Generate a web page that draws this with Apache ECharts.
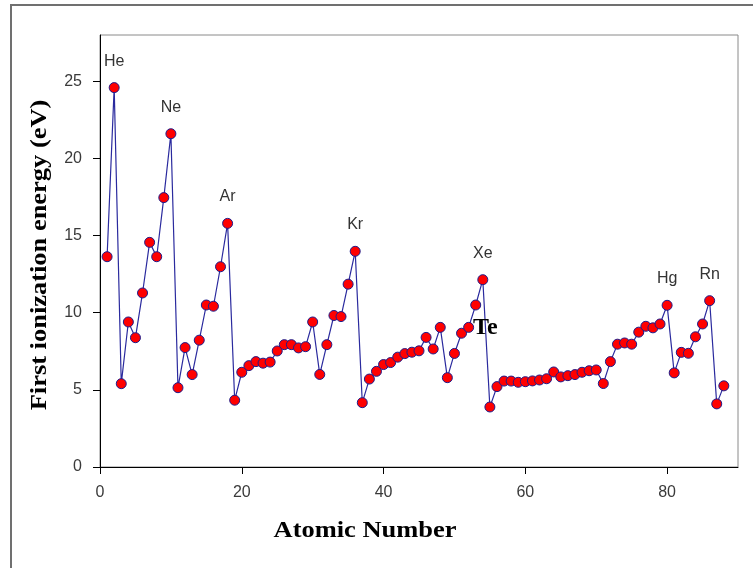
<!DOCTYPE html>
<html>
<head>
<meta charset="utf-8">
<script src="https://cdn.jsdelivr.net/npm/echarts@6/dist/echarts.min.js"></script>
<style>
html,body{margin:0;padding:0;background:#fff;}
#chart{width:753px;height:568px;}
</style>
</head>
<body>
<div id="chart"></div>
<script>
var atomicNumbers = [1,2,3,4,5,6,7,8,9,10,11,12,13,14,15,16,17,18,19,20,21,22,23,24,25,26,27,28,29,30,31,32,33,34,35,36,37,38,39,40,41,42,43,44,45,46,47,48,49,50,51,52,53,54,55,56,57,58,59,60,61,62,63,64,65,66,67,68,69,70,71,72,73,74,75,76,77,78,79,80,81,82,83,84,85,86,87,88];
var ionizationEnergy = [13.63,24.59,5.40,9.40,8.38,11.28,14.56,13.63,17.46,21.60,
  5.14,7.74,5.99,8.22,10.50,10.42,12.98,15.79,4.33,6.14,
  6.57,6.83,6.73,6.80,7.52,7.93,7.93,7.72,7.80,9.40,
  6.00,7.93,9.82,9.75,11.85,13.98,4.17,5.70,6.20,6.64,
  6.77,7.12,7.35,7.44,7.53,8.40,7.65,9.05,5.79,7.36,
  8.67,9.05,10.50,12.14,3.89,5.21,5.57,5.57,5.49,5.53,
  5.58,5.64,5.72,6.16,5.84,5.92,5.99,6.14,6.24,6.29,
  5.41,6.83,7.96,8.04,7.96,8.74,9.12,9.02,9.27,10.48,
  6.10,7.43,7.37,8.44,9.27,10.78,4.09,5.26];
var labelZ = [2,10,18,36,54,80,86];
var labelNames = ['He','Ne','Ar','Kr','Xe','Hg','Rn'];
var boldLabelZ = [52];
var boldLabelNames = ['Te'];
var xTicks = [0,20,40,60,80];
var yTicks = [0,5,10,15,20,25];

var seriesData = atomicNumbers.map(function(z, i){
  var item = {value:[z, ionizationEnergy[i]]};
  var li = labelZ.indexOf(z);
  if (li >= 0) {
    item.label = {show:true, formatter:labelNames[li], position:'top', distance:13,
      fontFamily:'Liberation Sans', fontSize:16, color:'#333',
      offset: z === 2 ? [5,0] : [0,0]};
  }
  var bi = boldLabelZ.indexOf(z);
  if (bi >= 0) {
    item.label = {show:true, formatter:boldLabelNames[bi], position:'right', distance:-1,
      fontFamily:'Liberation Serif', fontWeight:'bold', fontSize:24, color:'#000'};
  }
  return item;
});

var chart = echarts.init(document.getElementById('chart'), null, {renderer:'canvas'});
chart.setOption({
  animation:false,
  backgroundColor:'#fff',
  grid:{left:100, right:15, top:35, bottom:101, show:true, borderColor:'#8a8a8a', borderWidth:1},
  xAxis:{type:'value', min:0, max:90, interval:20,
    axisLine:{show:true, onZero:false, lineStyle:{color:'#000', width:1}},
    axisTick:{show:true, length:7, customValues:xTicks, lineStyle:{color:'#000'}},
    axisLabel:{customValues:xTicks, margin:18, fontFamily:'Liberation Sans', fontSize:16, color:'#3a3a3a'},
    splitLine:{show:false}},
  yAxis:{type:'value', min:0, max:28, interval:5,
    axisLine:{show:true, onZero:false, lineStyle:{color:'#000', width:1}},
    axisTick:{show:true, length:7, customValues:yTicks, lineStyle:{color:'#000'}},
    axisLabel:{customValues:yTicks, margin:18, fontFamily:'Liberation Sans', fontSize:16, color:'#3a3a3a'},
    splitLine:{show:false}},
  graphic:[
    {type:'rect', shape:{x:11, y:5, width:800, height:700}, style:{fill:'none', stroke:'#707070', lineWidth:2}, silent:true, z:-1},
    {type:'text', x:365, y:531, scaleX:1.15, style:{text:'Atomic Number', font:'bold 23px "Liberation Serif"', fill:'#000', align:'center', verticalAlign:'middle'}},
    {type:'text', x:40, y:255, rotation:Math.PI/2, scaleX:1.15, style:{text:'First ionization energy (eV)', font:'bold 23px "Liberation Serif"', fill:'#000', align:'center', verticalAlign:'middle'}}
  ],
  series:[{
    type:'line', data:seriesData, symbol:'circle', symbolSize:10,
    lineStyle:{color:'#2a2a9e', width:1.2},
    itemStyle:{color:'#ff0000', borderColor:'#1c1c8c', borderWidth:1},
    labelLayout:{hideOverlap:false}
  }]
});
</script>
</body>
</html>
